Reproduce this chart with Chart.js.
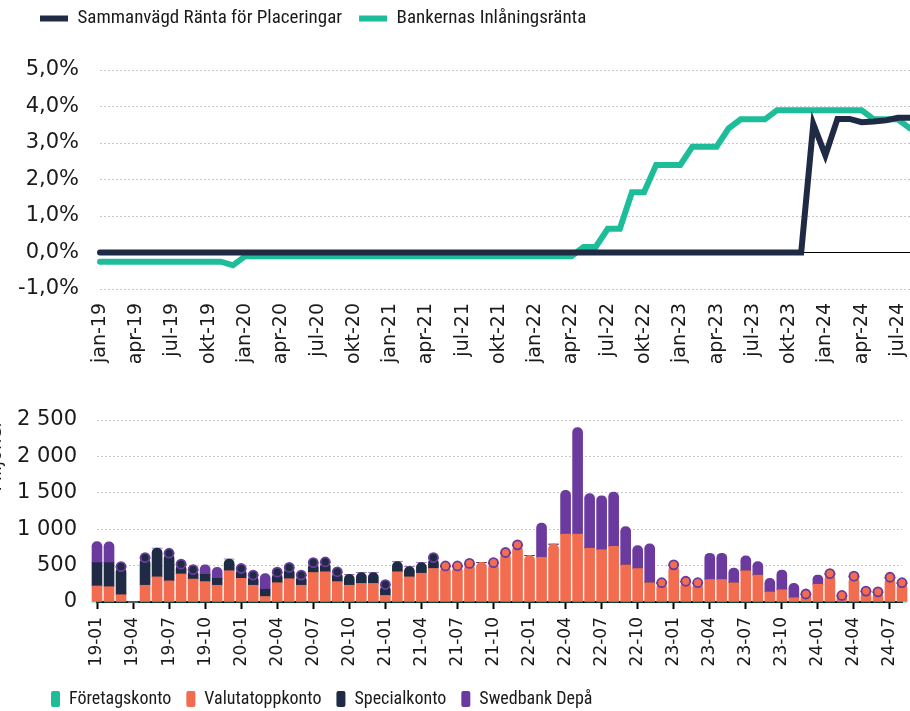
<!DOCTYPE html>
<html><head><meta charset="utf-8">
<script src="https://cdn.jsdelivr.net/npm/chart.js@4.4.0/dist/chart.umd.min.js"></script>
<style>
html,body{margin:0;padding:0;background:#fff;overflow:hidden;width:910px;height:711px;position:relative}
canvas{position:absolute;left:0}
</style></head><body>
<canvas id="topChart" width="910" height="388" style="top:-8px"></canvas>
<canvas id="bottomChart" width="910" height="328" style="top:390px"></canvas>
<script>
const monthLabels = [
 'jan-19','feb-19','mar-19','apr-19','maj-19','jun-19','jul-19','aug-19','sep-19','okt-19','nov-19','dec-19',
 'jan-20','feb-20','mar-20','apr-20','maj-20','jun-20','jul-20','aug-20','sep-20','okt-20','nov-20','dec-20',
 'jan-21','feb-21','mar-21','apr-21','maj-21','jun-21','jul-21','aug-21','sep-21','okt-21','nov-21','dec-21',
 'jan-22','feb-22','mar-22','apr-22','maj-22','jun-22','jul-22','aug-22','sep-22','okt-22','nov-22','dec-22',
 'jan-23','feb-23','mar-23','apr-23','maj-23','jun-23','jul-23','aug-23','sep-23','okt-23','nov-23','dec-23',
 'jan-24','feb-24','mar-24','apr-24','maj-24','jun-24','jul-24','aug-24'];
const sammanvagdRanta = [
 0,0,0,0,0,0,0,0,0,0,0,0,
 0,0,0,0,0,0,0,0,0,0,0,0,
 0,0,0,0,0,0,0,0,0,0,0,0,
 0,0,0,0,0,0,0,0,0,0,0,0,
 0,0,0,0,0,0,0,0,0,0,0,3.52,
 2.66,3.66,3.66,3.57,3.59,3.62,3.69,3.69];
const inlaningsranta = [
 -0.25,-0.25,-0.25,-0.25,-0.25,-0.25,-0.25,-0.25,-0.25,-0.25,-0.25,-0.35,
 -0.1,-0.1,-0.1,-0.1,-0.1,-0.1,-0.1,-0.1,-0.1,-0.1,-0.1,-0.1,
 -0.1,-0.1,-0.1,-0.1,-0.1,-0.1,-0.1,-0.1,-0.1,-0.1,-0.1,-0.1,
 -0.1,-0.1,-0.1,-0.1,0.15,0.15,0.65,0.65,1.65,1.65,2.4,2.4,
 2.4,2.9,2.9,2.9,3.4,3.65,3.65,3.65,3.9,3.9,3.9,3.9,
 3.9,3.9,3.9,3.9,3.65,3.65,3.65,3.4];

const periodLabels = [
 '19-01','19-02','19-03','19-04','19-05','19-06','19-07','19-08','19-09','19-10','19-11','19-12',
 '20-01','20-02','20-03','20-04','20-05','20-06','20-07','20-08','20-09','20-10','20-11','20-12',
 '21-01','21-02','21-03','21-04','21-05','21-06','21-07','21-08','21-09','21-10','21-11','21-12',
 '22-01','22-02','22-03','22-04','22-05','22-06','22-07','22-08','22-09','22-10','22-11','22-12',
 '23-01','23-02','23-03','23-04','23-05','23-06','23-07','23-08','23-09','23-10','23-11','23-12',
 '24-01','24-02','24-03','24-04','24-05','24-06','24-07','24-08'];
const foretagskonto = [
 0,0,0,0,0,0,0,0,0,0,0,0,
 0,0,0,0,0,0,0,0,0,0,0,0,
 0,0,0,0,0,0,0,0,0,0,0,0,
 0,0,0,0,0,0,0,0,0,0,0,0,
 0,0,0,0,0,0,0,0,0,0,0,0,
 0,0,0,0,0,0,0,0];
const valutatoppkonto = [
 220,210,100,0,230,345,290,385,315,280,230,430,
 325,230,75,265,320,230,405,415,280,230,255,255,
 90,415,345,395,460,485,485,520,545,530,670,775,
 640,615,795,935,935,740,720,765,510,460,265,255,
 500,275,255,310,310,265,430,370,140,170,60,100,
 245,380,80,345,140,130,330,255];
const specialkonto = [
 320,330,375,0,370,395,370,125,120,100,95,160,
 125,130,100,135,145,130,125,125,125,150,150,150,
 140,140,140,145,140,0,0,0,0,0,0,0,
 0,0,0,0,0,0,0,0,0,0,0,0,
 0,0,0,0,0,0,0,0,0,0,0,0,
 0,0,0,0,0,0,0,0];
const swedbankDepa = [
 290,285,10,0,10,0,10,10,10,130,150,0,
 10,10,215,10,10,10,10,10,10,0,0,0,
 10,0,0,0,10,10,10,10,0,10,10,10,
 0,470,0,600,1460,750,740,745,525,315,535,10,
 10,10,10,360,360,200,205,185,185,270,195,10,
 125,10,10,10,10,10,10,10];

Chart.defaults.font.family = "'DejaVu Sans', Verdana, sans-serif";
Chart.defaults.color = '#1a1a1a';
const NARROW = "'Roboto Condensed', 'Liberation Sans Narrow', 'DejaVu Sans Condensed', Roboto, 'Liberation Sans', sans-serif";
const C_DARK = '#1f2a44', C_GREEN = '#1dbd9a', C_ORANGE = '#f26c4f', C_PURPLE = '#6b3a9e';

// moves the legend row after layout
const legendShift = {
  id: 'legendShift',
  afterLayout(chart, args, opts) {
    const l = chart.legend;
    if (!l || !opts) return;
    const dx = opts.dx || 0, dy = opts.dy || 0;
    l.left += dx; l.right += dx; l.top += dy; l.bottom += dy;
  }
};

new Chart(document.getElementById('topChart'), {
  type: 'line',
  plugins: [legendShift],
  data: {
    labels: monthLabels,
    datasets: [
      {label: 'Sammanvägd Ränta för Placeringar', data: sammanvagdRanta, borderColor: C_DARK, backgroundColor: C_DARK,
       borderWidth: 6, pointRadius: 0, tension: 0, borderCapStyle: 'round', fill: false},
      {label: 'Bankernas Inlåningsränta', data: inlaningsranta, borderColor: C_GREEN, backgroundColor: C_GREEN,
       borderWidth: 6, pointRadius: 0, tension: 0, borderCapStyle: 'round', fill: false}
    ]
  },
  options: {
    responsive: false, animation: false,
    layout: {padding: {left: 0, right: 0, top: 0, bottom: 0}},
    plugins: {
      legendShift: {dx: 23, dy: -32},
      legend: {position: 'top', align: 'start',
        labels: {usePointStyle: true, pointStyle: 'line', pointStyleWidth: 28, padding: 17,
                 font: {family: NARROW, size: 19}, color: '#1a1a1a'}},
      tooltip: {enabled: false}
    },
    scales: {
      x: {
        grid: {display: false}, border: {display: false},
        ticks: {autoSkip: false, maxRotation: 90, minRotation: 90, padding: 6, font: {size: 19},
                callback: (v, i) => i % 3 === 0 ? monthLabels[i] : ''},
        afterFit: s => { s.height = 91; s.paddingLeft = 0; s.paddingRight = 0; }
      },
      y: {
        min: -1, max: 5,
        ticks: {stepSize: 1, padding: 21, font: {size: 21},
                callback: v => Number(v).toFixed(1).replace('.', ',') + '%'},
        grid: {drawTicks: false, lineWidth: 1,
               color: c => (c.tick && c.tick.value === 0) ? '#000000' : '#c8c8c8'},
        border: {display: false, dash: c => (c.tick && c.tick.value === 0) ? [] : [2, 2]},
        afterFit: s => { s.width = 100; s.paddingTop = 78; }
      }
    }
  }
});

const stackSeries = [foretagskonto, valutatoppkonto, specialkonto, swedbankDepa];
function segRadius(ctx) {
  const i = ctx.dataIndex, d = ctx.datasetIndex;
  let top = -1;
  stackSeries.forEach((s, k) => { if (s[i] >= 20) top = k; });
  const r = d === top ? 5 : 0;
  return {topLeft: r, topRight: r, bottomLeft: 0, bottomRight: 0};
}
const dotData = swedbankDepa.map((v, i) => (v > 0 && v < 20) ? foretagskonto[i] + valutatoppkonto[i] + specialkonto[i] + v : null);
const barCommon = {barThickness: 10, borderWidth: 0, borderSkipped: false, borderRadius: segRadius, clip: false};

new Chart(document.getElementById('bottomChart'), {
  type: 'bar',
  plugins: [legendShift],
  data: {
    labels: periodLabels,
    datasets: [
      Object.assign({label: 'Företagskonto', data: foretagskonto, backgroundColor: C_GREEN}, barCommon),
      Object.assign({label: 'Valutatoppkonto', data: valutatoppkonto, backgroundColor: C_ORANGE}, barCommon),
      Object.assign({label: 'Specialkonto', data: specialkonto, backgroundColor: C_DARK}, barCommon),
      Object.assign({label: 'Swedbank Depå', data: swedbankDepa, backgroundColor: C_PURPLE}, barCommon),
      {type: 'line', label: '', data: dotData, stack: 'dots', order: -1, showLine: false, clip: false,
       pointRadius: 4.5, pointBorderWidth: 1.8, pointBorderColor: C_PURPLE,
       pointBackgroundColor: c => specialkonto[c.dataIndex] > 0 ? C_DARK : C_ORANGE}
    ]
  },
  options: {
    responsive: false, animation: false,
    layout: {padding: {left: 0, right: 8, top: 0, bottom: 0}},
    plugins: {
      legendShift: {dx: 36, dy: 0},
      legend: {position: 'bottom', align: 'start',
        labels: {boxWidth: 9, boxHeight: 16, useBorderRadius: true, borderRadius: 2, padding: 15,
                 font: {family: NARROW, size: 18}, color: '#1a1a1a',
                 filter: it => it.datasetIndex < 4}},
      tooltip: {enabled: false}
    },
    scales: {
      x: {
        stacked: true, offset: false,
        grid: {offset: false, display: true, drawOnChartArea: false, drawTicks: true, tickLength: 7, tickWidth: 2,
               tickColor: c => c.index % 3 === 0 ? '#000000' : 'rgba(0,0,0,0)'},
        border: {display: true, color: '#000000', width: 2},
        ticks: {autoSkip: false, maxRotation: 90, minRotation: 90, padding: 8, font: {size: 17},
                callback: (v, i) => i % 3 === 0 ? periodLabels[i] : ''},
        afterFit: s => { s.height = 73; s.paddingLeft = 0; s.paddingRight = 0; }
      },
      y: {
        stacked: true, min: 0, max: 2500,
        title: {display: true, text: 'Miljoner', align: 'end', font: {size: 18}, padding: {top: -14, bottom: 0}},
        ticks: {stepSize: 500, padding: 20, font: {size: 21},
                callback: v => String(v).replace(/\B(?=(\d{3})+(?!\d))/g, ' ')},
        grid: {drawTicks: false, lineWidth: 1,
               color: c => (c.tick && c.tick.value === 0) ? 'rgba(0,0,0,0)' : '#c8c8c8'},
        border: {display: false, dash: [2, 2]},
        afterFit: s => { s.width = 97; s.paddingTop = 30; }
      }
    }
  }
});
</script>
</body></html>
